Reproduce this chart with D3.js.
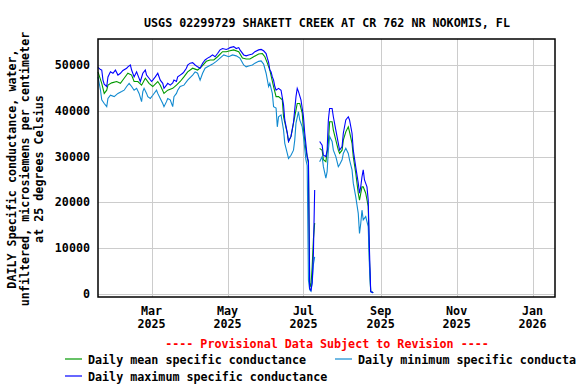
<!DOCTYPE html>
<html>
<head>
<meta charset="utf-8">
<script src="https://cdn.jsdelivr.net/npm/d3@7"></script>
<style>
  body { margin: 0; background: #fff; }
  svg { display: block; }
  text { font-family: "DejaVu Sans Mono", monospace; font-weight: bold; font-size: 11.7px; fill: #000; }
</style>
</head>
<body>
<script>
// daily values, [day of year 2025, value]; null = no data
var maxSeries = [[17,49500],[19,49000],[20,48900],[21,46700],[22,45800],[24,45300],[25,47400],[27,48500],[29,48200],[31,48900],[33,47800],[35,48200],[37,48800],[40,49300],[41,49600],[43,50000],[44,48900],[46,47400],[48,48500],[49,47800],[51,46400],[53,48200],[55,48900],[56,47800],[58,47100],[60,46400],[61,46700],[63,47400],[65,48200],[67,46700],[69,46000],[70,44900],[72,45600],[73,46000],[75,45600],[77,46100],[78,46700],[80,46400],[81,47400],[83,47800],[85,48200],[86,48500],[88,49300],[89,50000],[91,50400],[93,50500],[95,50000],[97,49600],[99,49300],[101,50400],[103,51100],[105,51500],[107,51800],[109,52200],[111,51800],[113,52500],[115,53300],[117,53600],[120,53400],[122,53600],[123,53800],[126,54000],[128,53600],[130,53800],[131,53300],[134,52200],[136,52000],[138,52200],[141,52400],[143,52900],[146,53300],[148,53400],[150,53100],[152,52500],[153,51500],[154,50600],[155,48900],[156,48500],[157,47400],[158,46700],[159,45300],[160,44500],[162,44900],[164,44500],[166,41300],[167,38000],[169,35200],[170,33300],[172,34400],[174,37500],[176,43100],[177,44900],[178,44200],[180,42400],[182,38700],[183,35200],[185,30000],[186,29000],[187,1200],[188,800],[189,2500],[190,9000],[191,22700],[193,null],[195,33300],[197,32500],[198,30300],[200,30000],[201,31400],[202,38000],[203,40500],[205,40500],[206,38700],[208,35800],[210,32900],[211,31400],[213,32200],[214,35100],[216,38000],[218,38700],[219,38000],[221,35100],[222,31400],[224,27700],[226,24200],[227,22000],[228,23400],[229,25600],[230,27100],[231,24900],[233,23400],[234,20500],[235,9600],[236,500],[238,300]];

var meanSeries = [[17,48500],[20,46000],[22,43800],[24,44500],[25,45600],[28,46100],[32,46400],[35,46000],[38,47100],[41,48200],[44,47800],[46,46400],[49,46400],[52,45600],[55,47100],[58,46000],[61,45300],[65,46400],[67,45600],[70,43800],[73,44500],[77,44900],[80,45600],[83,46400],[86,47400],[89,48500],[93,49300],[95,49100],[97,48900],[100,49600],[104,50800],[107,51100],[110,51100],[113,51800],[117,52900],[120,52900],[123,53100],[126,53300],[130,52900],[133,51500],[136,51300],[139,51300],[142,51800],[146,52400],[149,52500],[151,51800],[153,50400],[155,48900],[158,45300],[160,43100],[162,43100],[165,42400],[166,38700],[169,35100],[170,33300],[172,34400],[174,37300],[177,41600],[179,41600],[181,39500],[182,35800],[184,31400],[186,28500],[187,2400],[188,1500],[189,6000],[190,12000],[191,15500],[193,null],[195,31800],[197,31400],[198,29300],[200,28900],[202,32900],[203,37600],[205,37600],[206,35800],[208,33600],[210,31400],[211,30700],[213,31400],[214,33600],[216,35400],[218,36500],[219,35400],[221,32900],[222,30000],[224,26400],[226,22000],[227,20500],[229,23400],[230,23400],[232,22000],[234,19100],[235,7400],[236,500],[238,300]];

var minSeries = [[17,47400],[19,44500],[20,42400],[22,41600],[24,40900],[25,42700],[27,43400],[30,43100],[33,43800],[36,44200],[38,44500],[40,45300],[42,46000],[44,45300],[46,44500],[48,44900],[50,43800],[52,42000],[53,44200],[54,44900],[56,43800],[57,43100],[59,42700],[61,43400],[64,44500],[65,43800],[67,42700],[69,41600],[70,40900],[72,42000],[73,42700],[75,42400],[77,40900],[78,43100],[80,43800],[81,44500],[83,45300],[86,45600],[89,46700],[93,47800],[95,48500],[97,48200],[99,46700],[101,48200],[103,49300],[105,49600],[109,50200],[112,50800],[115,51500],[118,52200],[122,51800],[125,52200],[128,52000],[131,51500],[134,50000],[136,49600],[138,49800],[141,50000],[143,50400],[146,50800],[148,50900],[150,50200],[152,48200],[154,45300],[155,46000],[157,43800],[158,40900],[160,40600],[161,36500],[162,38700],[164,39100],[166,35800],[167,32900],[169,30700],[170,29600],[172,30300],[174,31400],[175,33600],[176,37300],[178,39800],[179,38000],[181,36500],[182,34400],[184,29300],[185,28000],[186,3000],[187,900],[188,600],[189,2400],[190,6500],[191,8100],[193,null],[195,28900],[197,30000],[198,27800],[200,25300],[201,26700],[202,31400],[203,34400],[205,33300],[206,31400],[208,30000],[210,27800],[211,28200],[213,29300],[214,30700],[216,31800],[218,30700],[219,29300],[221,27100],[222,24200],[224,21200],[226,17600],[227,13200],[228,15400],[229,18300],[230,16200],[232,16900],[234,14700],[235,6000],[236,500],[238,300]];

var yTicks = [0, 10000, 20000, 30000, 40000, 50000];
var xTicks = ["2025-03-01", "2025-05-01", "2025-07-01", "2025-09-01", "2025-11-01", "2026-01-01"];
var titleText = "USGS 02299729 SHAKETT CREEK AT CR 762 NR NOKOMIS, FL";
var yLabel = ["DAILY Specific conductance, water,", "unfiltered, microsiemens per centimeter", "at 25 degrees Celsius"];
var legendItems = [
  {name: "Daily mean specific conductance", color: "#009900", data: meanSeries},
  {name: "Daily minimum specific conductance", color: "#118ad0", data: minSeries},
  {name: "Daily maximum specific conductance", color: "#0000ff", data: maxSeries}
];

var width = 576, height = 384;
var plotL = 98, plotR = 555, plotT = 39, plotB = 297;

var svg = d3.select("body").append("svg")
    .attr("width", width)
    .attr("height", height);

var day = function(doy) { return new Date(Date.UTC(2025, 0, doy)); };

var x = d3.scaleUtc()
    .domain([day(17), new Date(Date.UTC(2026, 0, 19))])
    .range([plotL, plotR]);

var y = d3.scaleLinear()
    .domain([-655, 55677])
    .range([plotB, plotT]);

// grid
svg.append("g").selectAll("line")
    .data(yTicks)
    .enter().append("line")
    .attr("x1", plotL).attr("x2", plotR)
    .attr("y1", d => Math.round(y(d)) + 0.5)
    .attr("y2", d => Math.round(y(d)) + 0.5)
    .attr("stroke", "#cccccc");

svg.append("g").selectAll("line")
    .data(xTicks)
    .enter().append("line")
    .attr("x1", d => Math.round(x(new Date(d))) + 0.5)
    .attr("x2", d => Math.round(x(new Date(d))) + 0.5)
    .attr("y1", plotT).attr("y2", plotB)
    .attr("stroke", "#cccccc");

var line = d3.line()
    .defined(d => d[1] != null)
    .x(d => x(day(d[0])))
    .y(d => y(d[1]));

svg.append("g").selectAll("path")
    .data(legendItems)
    .enter().append("path")
    .attr("d", d => line(d.data))
    .attr("fill", "none")
    .attr("stroke", d => d.color)
    .attr("stroke-width", 1.1);

// frame
svg.append("rect")
    .attr("x", plotL).attr("y", plotT)
    .attr("width", plotR - plotL).attr("height", plotB - plotT)
    .attr("fill", "none")
    .attr("stroke", "#000")
    .attr("stroke-width", 1.5);

// y tick labels
svg.append("g").selectAll("text")
    .data(yTicks)
    .enter().append("text")
    .attr("x", plotL - 8)
    .attr("y", d => y(d) + 4)
    .attr("text-anchor", "end")
    .text(d => d);

// x tick labels
var fmtM = d3.utcFormat("%b"), fmtY = d3.utcFormat("%Y");
var xl = svg.append("g").selectAll("g")
    .data(xTicks)
    .enter().append("g");
xl.append("text")
    .attr("x", d => x(new Date(d)))
    .attr("y", 315)
    .attr("text-anchor", "middle")
    .text(d => fmtM(new Date(d)));
xl.append("text")
    .attr("x", d => x(new Date(d)))
    .attr("y", 328)
    .attr("text-anchor", "middle")
    .text(d => fmtY(new Date(d)));

// title
svg.append("text")
    .attr("x", 327).attr("y", 27)
    .attr("text-anchor", "middle")
    .text(titleText);

// y label
svg.append("g").selectAll("text")
    .data(yLabel)
    .enter().append("text")
    .attr("transform", (d, i) => "translate(" + (15.5 + i * 13.7) + ",169) rotate(-90)")
    .attr("text-anchor", "middle")
    .text(d => d);

// provisional note
svg.append("text")
    .attr("x", 327).attr("y", 347.5)
    .attr("text-anchor", "middle")
    .style("fill", "#ff0000")
    .text("---- Provisional Data Subject to Revision ----");

// legend
var legPos = [[65, 359.5], [335, 359.5], [65, 376.5]];
var leg = svg.append("g").selectAll("g")
    .data(legendItems)
    .enter().append("g")
    .attr("transform", (d, i) => "translate(" + legPos[i][0] + "," + legPos[i][1] + ")");
leg.append("line")
    .attr("x1", 0).attr("x2", 17)
    .attr("y1", -0.5).attr("y2", -0.5)
    .attr("stroke", d => d.color)
    .attr("stroke-width", 1.2);
leg.append("text")
    .attr("x", 23).attr("y", 4)
    .text(d => d.name);
</script>
</body>
</html>
